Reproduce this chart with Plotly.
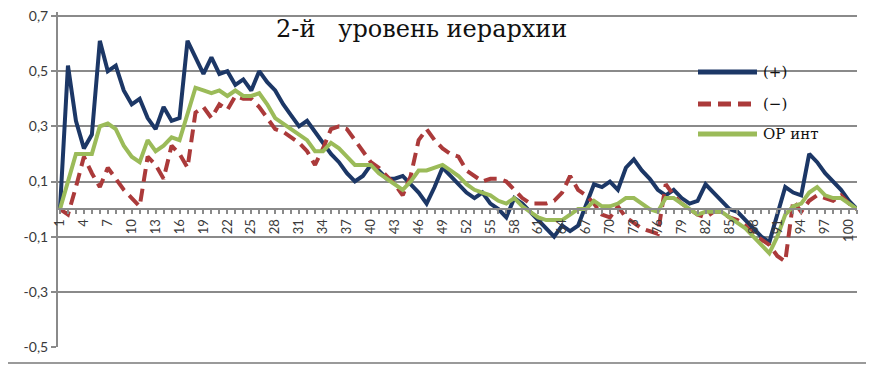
import plotly.graph_objects as go

categories = list(range(1, 102))

series_plus = [
    0.00, 0.52, 0.32, 0.22, 0.27, 0.61, 0.50, 0.52, 0.43, 0.38,
    0.40, 0.33, 0.29, 0.37, 0.32, 0.33, 0.61, 0.55, 0.49, 0.55,
    0.49, 0.50, 0.45, 0.47, 0.43, 0.50, 0.46, 0.43, 0.38, 0.34,
    0.30, 0.32, 0.28, 0.24, 0.20, 0.17, 0.13, 0.10, 0.12, 0.16,
    0.14, 0.11, 0.11, 0.12, 0.09, 0.06, 0.02, 0.08, 0.15, 0.12,
    0.09, 0.06, 0.04, 0.06, 0.02, 0.00, -0.03, 0.04, 0.02, -0.01,
    -0.04, -0.07, -0.10, -0.06, -0.08, -0.06, 0.02, 0.09, 0.08, 0.10,
    0.07, 0.15, 0.18, 0.14, 0.11, 0.07, 0.05, 0.07, 0.04, 0.02,
    0.03, 0.09, 0.06, 0.03, 0.00, -0.01, -0.04, -0.07, -0.10, -0.12,
    -0.02, 0.08, 0.06, 0.05, 0.20, 0.17, 0.13, 0.10, 0.07, 0.03,
    0.00,
]

series_minus = [
    0.00, -0.02, 0.08, 0.19, 0.13, 0.08, 0.15, 0.11, 0.07, 0.04,
    0.01, 0.19, 0.16, 0.11, 0.23, 0.20, 0.15, 0.35, 0.37, 0.33,
    0.38, 0.36, 0.41, 0.40, 0.40, 0.37, 0.33, 0.29, 0.28, 0.26,
    0.24, 0.21, 0.16, 0.22, 0.29, 0.30, 0.29, 0.25, 0.21, 0.17,
    0.15, 0.12, 0.09, 0.05, 0.12, 0.25, 0.29, 0.25, 0.22, 0.20,
    0.19, 0.14, 0.12, 0.10, 0.11, 0.11, 0.10, 0.07, 0.04, 0.02,
    0.02, 0.02, 0.03, 0.06, 0.12, 0.07, 0.05, 0.02, -0.02, -0.03,
    0.01, -0.03, -0.05, -0.07, -0.08, -0.09, 0.09, 0.05, 0.02, 0.00,
    -0.02, -0.03, -0.01, -0.01, -0.03, -0.04, -0.06, -0.09, -0.11, -0.13,
    -0.17, -0.19, 0.03, -0.01, 0.03, 0.05, 0.04, 0.03, 0.05, 0.02,
    0.00,
]

series_or = [
    0.00, 0.10, 0.20, 0.20, 0.20, 0.30, 0.31, 0.29, 0.23, 0.19,
    0.17, 0.25, 0.21, 0.23, 0.26, 0.25, 0.35, 0.44, 0.43, 0.42,
    0.43, 0.41, 0.43, 0.41, 0.41, 0.42, 0.38, 0.33, 0.31, 0.29,
    0.27, 0.25, 0.21, 0.21, 0.24, 0.22, 0.19, 0.16, 0.16, 0.16,
    0.13, 0.11, 0.09, 0.07, 0.10, 0.14, 0.14, 0.15, 0.16, 0.14,
    0.12, 0.09, 0.07, 0.06, 0.05, 0.03, 0.02, 0.04, 0.01, -0.01,
    -0.03, -0.04, -0.04, -0.04, -0.02, 0.00, 0.00, 0.03, 0.01, 0.01,
    0.02, 0.04, 0.04, 0.02, 0.00, -0.01, 0.04, 0.04, 0.02, 0.00,
    -0.02, -0.01, -0.01, -0.01, -0.03, -0.05, -0.07, -0.10, -0.13, -0.16,
    -0.10, -0.02, 0.01, 0.02, 0.06, 0.08, 0.05, 0.04, 0.04, 0.02,
    0.00,
]

series_names = ["(+)", "(\u2212)", "ОР инт"]
title_text = "2-й\u00a0\u00a0\u00a0уровень иерархии"

x_tick_values = list(range(1, 101, 3))
x_tick_labels = [str(v) for v in x_tick_values]
y_tick_values = [-0.5, -0.3, -0.1, 0.1, 0.3, 0.5, 0.7]
y_tick_labels = ["-0,5", "-0,3", "-0,1", "0,1", "0,3", "0,5", "0,7"]

NAVY = "#1c3766"
RED = "#ab3a3a"
GREEN = "#9bbb59"
GRID = "#8a8a8a"
TXT = "#3a3a3a"

# page has an 8px default body margin; plot area target: x 58..857, y 12..347 (page px)
OFF = 8
W, H = 874 - OFF, 366 - OFF
PX0, PX1 = 58, 857
PY0, PY1 = 12, 347          # plot area top/bottom on the page
Y0_PAGE = 16                # page y of value 0.7
PER = (347 - 16) / 1.2      # px per unit
Y_MAX = 0.7 + (Y0_PAGE - PY0) / PER
PW = PX1 - PX0
PH = PY1 - PY0


def px_x(page_x):
    return (page_x - PX0) / PW


def px_y(page_y):
    return (PY1 - page_y) / PH


fig = go.Figure()
fig.add_trace(go.Scatter(x=categories, y=series_plus, mode="lines", name=series_names[0],
                         line=dict(color=NAVY, width=4)))
fig.add_trace(go.Scatter(x=categories, y=series_minus, mode="lines", name=series_names[1],
                         line=dict(color=RED, width=4, dash="13px,7px")))
fig.add_trace(go.Scatter(x=categories, y=series_or, mode="lines", name=series_names[2],
                         line=dict(color=GREEN, width=4)))

zero_pos = (0 - (-0.5)) / (Y_MAX + 0.5)

fig.update_layout(
    width=W, height=H,
    margin=dict(l=PX0 - OFF, r=W - (PX1 - OFF), t=PY0 - OFF, b=H - (PY1 - OFF)),
    paper_bgcolor="white", plot_bgcolor="white",
    showlegend=False,
    font=dict(family="Lato, 'Open Sans', sans-serif", size=13, color=TXT),
    xaxis=dict(
        range=[0.75, 101], anchor="free", position=zero_pos,
        showgrid=False, zeroline=False,
        showline=True, linecolor=GRID, linewidth=2,
        tickmode="array", tickvals=x_tick_values, ticktext=x_tick_labels,
        tickangle=-90, ticks="outside", ticklen=4, tickcolor=GRID, tickwidth=1.5,
        minor=dict(dtick=1, tick0=1, ticks="outside", ticklen=4, tickcolor=GRID, tickwidth=1.5, showgrid=False),
        tickfont=dict(size=13, color=TXT),
        automargin=False, ticklabeloverflow="allow",
    ),
    yaxis=dict(
        range=[-0.5, Y_MAX], showgrid=True, gridcolor=GRID, gridwidth=1.8,
        zeroline=False, showline=True, linecolor=GRID, linewidth=2,
        tickmode="array", tickvals=y_tick_values, ticktext=y_tick_labels,
        ticks="outside", ticklen=5, tickcolor=GRID, tickwidth=1.5,
        tickfont=dict(size=14, color=TXT),
        automargin=False, ticklabeloverflow="allow",
    ),
)

fig.add_annotation(text=title_text, xref="paper", yref="paper",
                   x=px_x(421), y=px_y(29),
                   xanchor="center", yanchor="middle", showarrow=False,
                   font=dict(family="DejaVu Serif, 'Liberation Serif', serif", size=24, color="#111111"))

# manual legend
legend_rows = [(72, NAVY, "solid"), (104, RED, "13px,7px"), (134, GREEN, "solid")]
for (py, col, dash), name in zip(legend_rows, series_names):
    yp = px_y(py)
    fig.add_shape(type="line", xref="paper", yref="paper",
                  x0=px_x(698), x1=px_x(757), y0=yp, y1=yp,
                  line=dict(color=col, width=5, dash=dash))
    fig.add_annotation(text=name, xref="paper", yref="paper",
                       x=px_x(761), y=yp, xanchor="left", yanchor="middle",
                       showarrow=False,
                       font=dict(family="DejaVu Serif, 'Liberation Serif', serif", size=15, color="#111111"))

# bottom border of chart area
fig.add_shape(type="line", xref="paper", yref="paper",
              x0=px_x(OFF), x1=px_x(874), y0=px_y(363), y1=px_y(363),
              line=dict(color="#9a9a9a", width=2))

fig.write_html("out.html")
